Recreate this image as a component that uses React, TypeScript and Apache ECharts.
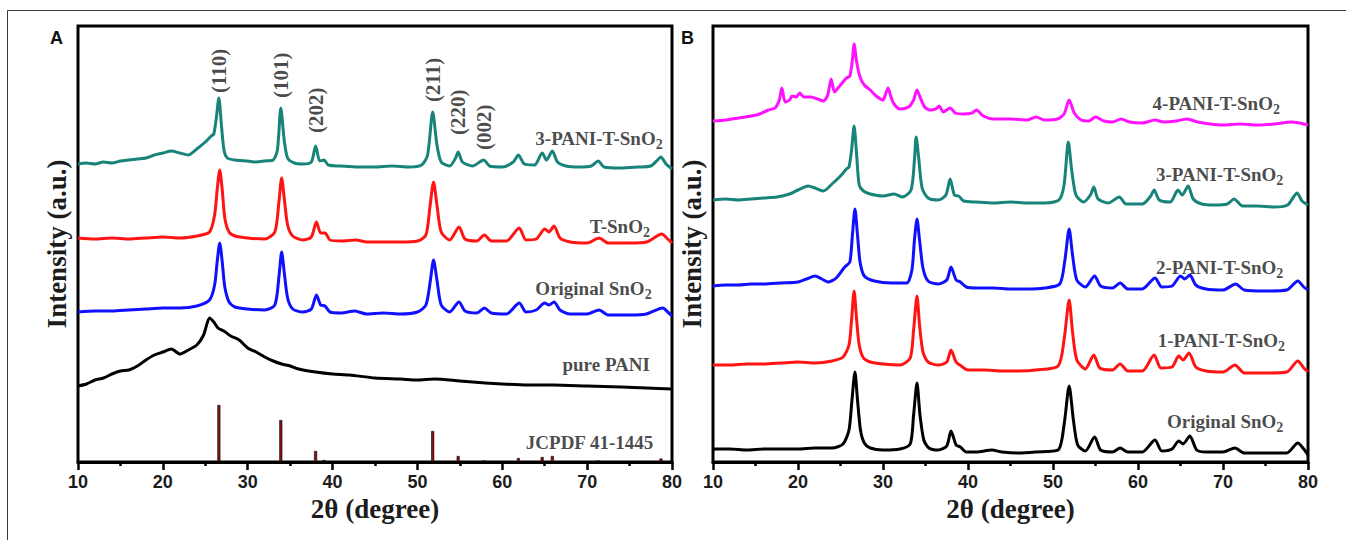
import React, { useEffect, useRef } from "react";
import * as echarts from "echarts";

// ---------- Panel A data: [2θ (deg), intensity (a.u.)] ----------
const aPani3 = [
  [10, 298], [11, 299], [12, 298], [13, 300], [14, 299], [15, 301], [16, 302], [17, 303], [18, 304], [19, 307],
  [20, 309], [21, 311], [22, 309], [23, 307], [24, 313], [25, 320], [25.7, 326], [26.0, 328], [26.3, 344], [26.6, 364],
  [26.9, 337], [27.2, 312], [27.6, 304], [28.5, 302], [30, 301], [31, 300], [32, 301], [33, 302], [33.5, 312], [33.9, 354],
  [34.3, 322], [34.7, 304], [35.5, 299], [36.5, 298], [37.5, 300], [38.0, 316], [38.5, 301], [39.0, 302], [39.5, 297], [41, 296],
  [43, 295], [45, 295], [47, 296], [49, 295], [50.5, 297], [51.2, 307], [51.8, 350], [52.3, 317], [52.8, 300], [53.8, 296],
  [54.5, 304], [54.8, 310], [55.3, 300], [56.5, 296], [57.8, 302], [58.5, 296], [60, 295], [61.3, 300], [61.9, 307], [62.6, 298],
  [63.8, 297], [64.7, 309], [65.2, 302], [65.9, 311], [66.5, 300], [67.5, 296], [69, 295], [70.5, 296], [71.3, 301], [72, 295],
  [74, 294], [76, 295], [77.5, 296], [78.3, 302], [78.7, 305], [79.3, 298], [80, 293]
];
const aTSnO2 = [
  [10, 224], [12, 223], [14, 224], [16, 223], [18, 224], [20, 225], [22, 224], [24, 226], [25.5, 230], [26.1, 247],
  [26.4, 272], [26.7, 292], [27.0, 272], [27.3, 244], [27.8, 230], [28.5, 226], [30, 224], [32, 223], [33.2, 230], [33.7, 262],
  [34.0, 284], [34.3, 264], [34.7, 237], [35.3, 226], [36.5, 222], [37.5, 225], [38.1, 240], [38.6, 229], [39.1, 229], [39.7, 222],
  [41, 221], [42.8, 222], [44, 220], [46, 220], [48, 220], [50, 221], [51.0, 227], [51.5, 257], [51.9, 280], [52.3, 257],
  [52.8, 230], [53.8, 222], [54.9, 235], [55.6, 223], [57, 221], [57.9, 227], [58.7, 221], [60.5, 221], [62.0, 234], [62.8, 222],
  [64.0, 223], [65.0, 233], [65.5, 230], [66.1, 236], [66.8, 224], [68, 220], [70, 219], [71.4, 224], [72.5, 219], [75, 219],
  [77, 220], [78.8, 228], [79.5, 223], [80, 219]
];
const aOriginal = [
  [10, 150], [12, 151], [14, 151], [16, 152], [18, 153], [20, 154], [22, 154], [24, 156], [25.5, 162], [26.1, 177],
  [26.4, 200], [26.7, 219], [27.0, 200], [27.3, 175], [27.8, 160], [28.5, 155], [30, 153], [32, 152], [33.2, 157], [33.7, 187],
  [34.0, 210], [34.3, 190], [34.7, 164], [35.3, 153], [36.5, 150], [37.5, 153], [38.1, 167], [38.6, 157], [39.1, 156], [39.7, 150],
  [41, 149], [42.6, 151], [44, 148], [46, 149], [48, 148], [50, 150], [51.0, 157], [51.5, 180], [51.9, 202], [52.3, 182],
  [52.8, 157], [53.8, 150], [54.9, 160], [55.6, 151], [57, 149], [57.9, 154], [58.7, 149], [60.5, 148], [62.0, 159], [62.8, 150],
  [64.0, 152], [65.0, 159], [65.5, 157], [66.1, 160], [66.8, 152], [68, 148], [70, 148], [71.4, 152], [72.5, 147], [75, 147],
  [77, 148], [78.9, 154], [79.5, 150], [80, 146]
];
const aPurePani = [
  [10, 76], [11, 78], [12, 82], [13, 84], [14, 88], [15, 91], [16, 92], [17, 96], [18, 102], [19, 107],
  [20, 110], [21, 113], [22, 108], [23, 112], [24, 117], [24.8, 127], [25.5, 144], [26.0, 140], [26.5, 134], [27.2, 131],
  [28, 126], [29, 122], [30, 114], [31, 110], [32, 105], [33, 101], [34, 98], [35, 96], [36, 93], [38, 90],
  [40, 88], [42, 87], [45, 84], [48, 83], [50, 82], [52, 83], [55, 81], [58, 79], [60, 78], [63, 77],
  [66, 77], [70, 76], [74, 75], [77, 74], [80, 73]
];
const jcpdfTheta = [26.6, 33.9, 38.0, 39.0, 51.8, 54.8, 57.8, 61.9, 64.7, 65.9, 71.3, 78.7];
const jcpdfIntensity = [57, 42, 11, 2, 31, 6, 1.5, 4, 5, 6, 1.5, 3.5];

const peakNames = ["(110)", "(101)", "(202)", "(211)", "(220)", "(002)"];
const peakTheta = [26.6, 33.9, 38.0, 51.8, 54.8, 57.8];
const peakLabelBase = [369, 364, 329, 360, 327, 312];

const aLabels = ["3-PANI-T-SnO", "T-SnO", "Original SnO", "pure PANI", "JCPDF 41-1445"];
const aLabelSub = ["2", "2", "2", "", ""];
const aLabelTheta = [78.9, 77.4, 77.6, 77.4, 77.8];
const aLabelY = [324, 236, 174, 98, 20];

// ---------- Panel B data ----------
const bPani4 = [
  [10, 341], [11.5, 342], [13, 344], [14.5, 346], [15.5, 348], [16.5, 352], [17.3, 354], [17.8, 362], [18.1, 374], [18.5, 360],
  [19.0, 362], [19.3, 366], [19.8, 365], [20.2, 369], [20.7, 365], [21.5, 365], [22.3, 363], [23.0, 361], [23.5, 367], [23.9, 383],
  [24.3, 370], [24.7, 374], [25.2, 379], [25.7, 384], [26.1, 386], [26.4, 402], [26.6, 418], [26.9, 400], [27.3, 385], [27.8, 377],
  [28.5, 372], [29.2, 366], [30.0, 362], [30.3, 368], [30.6, 374], [30.9, 366], [31.3, 358], [32, 353], [33, 355], [33.6, 362],
  [34.0, 372], [34.4, 364], [34.9, 355], [35.5, 352], [36.2, 353], [36.6, 356], [37.1, 350], [37.9, 354], [38.5, 349], [39.5, 348],
  [40.5, 349], [41.0, 352], [41.8, 346], [43, 343], [45, 343], [47, 342], [48, 345], [49, 342], [50.5, 343], [51.3, 348],
  [51.9, 362], [52.5, 349], [53.3, 342], [54.2, 341], [55.0, 345], [56, 341], [57, 340], [58, 343], [59, 340], [60.5, 339],
  [62, 342], [63, 340], [64.5, 341], [65.8, 343], [67, 340], [68.5, 338], [70, 337], [72, 338], [74, 337], [76, 338],
  [78, 340], [79, 339], [80, 337]
];
const bPani3 = [
  [10, 262], [11.5, 263], [13, 262], [14.5, 263], [16, 264], [17.5, 265], [19, 268], [20, 272], [21.2, 276], [22, 274],
  [23, 271], [24, 278], [25, 286], [25.7, 293], [26.0, 295], [26.3, 312], [26.6, 336], [26.9, 307], [27.2, 277], [27.7, 271],
  [28.5, 268], [30, 266], [31.3, 268], [32.3, 265], [33.3, 272], [33.7, 302], [33.9, 325], [34.2, 304], [34.6, 274], [35.3, 264],
  [36.5, 262], [37.4, 267], [37.9, 283], [38.4, 267], [38.9, 266], [39.5, 261], [41, 260], [43, 259], [45, 260], [47, 259],
  [49, 259], [50.7, 262], [51.3, 277], [51.8, 320], [52.2, 292], [52.7, 267], [53.6, 260], [54.4, 267], [54.8, 275], [55.3, 263],
  [56.5, 259], [57.8, 265], [58.6, 258], [60.5, 258], [61.5, 266], [61.9, 272], [62.5, 262], [63.8, 260], [64.7, 272], [65.2, 267],
  [65.9, 276], [66.5, 263], [67.5, 258], [69, 257], [70.5, 258], [71.3, 263], [72.3, 256], [74, 256], [76, 255], [77.6, 257],
  [78.3, 265], [78.7, 269], [79.3, 261], [80, 257]
];
const bPani2 = [
  [10, 176], [11.5, 177], [13, 177], [14.5, 178], [16, 178], [18, 179], [20, 180], [21, 183], [22, 186], [22.8, 183],
  [23.5, 180], [24.5, 184], [25.5, 195], [26.1, 200], [26.4, 227], [26.7, 253], [27.0, 227], [27.3, 200], [27.8, 186], [29, 181],
  [31, 179], [32.8, 179], [33.4, 192], [33.7, 222], [34.0, 243], [34.3, 222], [34.7, 194], [35.3, 181], [36.5, 178], [37.5, 182],
  [38.0, 195], [38.6, 182], [39.1, 180], [39.8, 175], [41, 174], [43, 174], [45, 173], [47, 173], [49, 174], [50.8, 178],
  [51.4, 202], [51.9, 233], [52.3, 207], [52.8, 182], [53.8, 175], [54.9, 186], [55.6, 176], [57, 174], [57.9, 179], [58.8, 173],
  [60.5, 173], [62.0, 184], [62.8, 175], [64.0, 176], [65.0, 186], [65.5, 183], [66.1, 187], [66.8, 177], [68, 173], [70, 172],
  [71.5, 178], [72.5, 172], [75, 171], [77.5, 172], [78.8, 181], [79.5, 175], [80, 172]
];
const bPani1 = [
  [10, 97], [12, 97], [14, 98], [16, 98], [18, 99], [20, 100], [22, 99], [24, 101], [25.3, 105], [26.0, 117],
  [26.3, 142], [26.6, 171], [26.9, 142], [27.2, 117], [27.7, 104], [28.5, 100], [30, 98], [32, 97], [33.2, 104], [33.6, 132],
  [34.0, 166], [34.3, 137], [34.7, 110], [35.3, 100], [36.5, 97], [37.5, 100], [38.0, 112], [38.6, 100], [39.2, 96], [40, 92],
  [42, 92], [44, 91], [46, 91], [48, 92], [50.6, 96], [51.3, 122], [51.9, 162], [52.3, 130], [52.8, 102], [53.8, 93],
  [54.8, 107], [55.5, 94], [57, 92], [57.9, 98], [58.8, 91], [60.5, 91], [61.9, 107], [62.7, 94], [64.0, 95], [64.8, 106],
  [65.3, 102], [66.0, 109], [66.8, 95], [68, 91], [70, 90], [71.4, 97], [72.5, 89], [75, 89], [77.5, 90], [78.8, 101],
  [79.5, 94], [80, 90]
];
const bOriginal = [
  [10, 13], [12, 13], [14, 12], [16, 13], [18, 13], [20, 13], [22, 14], [24, 14], [25.3, 18], [26.0, 32],
  [26.35, 62], [26.7, 90], [27.0, 62], [27.35, 32], [27.8, 19], [28.5, 14], [30, 12], [32, 13], [33.2, 18], [33.6, 47],
  [34.0, 79], [34.35, 47], [34.8, 22], [35.4, 14], [36.5, 12], [37.5, 16], [38.0, 31], [38.6, 17], [39.1, 15], [39.8, 10],
  [41, 10], [42.8, 12], [44, 10], [46, 9], [48, 10], [50.6, 12], [51.3, 37], [51.9, 76], [52.4, 42], [52.9, 17],
  [53.8, 11], [54.9, 25], [55.6, 12], [57, 10], [57.9, 14], [58.8, 10], [60.5, 10], [62.0, 22], [62.8, 11], [64.0, 13],
  [64.8, 21], [65.3, 18], [66.1, 26], [66.9, 12], [68, 10], [70, 10], [71.4, 14], [72.5, 9], [75, 9], [77.5, 9],
  [78.8, 19], [79.5, 13], [80, 7]
];

const bLabels = ["4-PANI-T-SnO", "3-PANI-T-SnO", "2-PANI-T-SnO", "1-PANI-T-SnO", "Original SnO"];
const bLabelSub = ["2", "2", "2", "2", "2"];
const bLabelTheta = [76.7, 77.1, 77.1, 77.3, 77.1];
const bLabelY = [359, 288, 195, 122, 41];

const xTickInterval = 10;
const xMin = 10;
const xMax = 80;
const yMax = 436;

const SERIF = "'Liberation Serif', 'Times New Roman', serif";
const SANS = "'Liberation Sans', Arial, sans-serif";

const COLORS = {
  teal: "#178379",
  red: "#ff1414",
  blue: "#1010ff",
  black: "#000000",
  magenta: "#ff12ff",
  stick: "#8a1010",
};

function lineSeries(name: string, data: number[][], color: string, idx: number) {
  return {
    type: "line",
    name,
    xAxisIndex: idx,
    yAxisIndex: idx,
    data,
    symbol: "none",
    showSymbol: false,
    smooth: 0.25,
    lineStyle: { color, width: 3, join: "round" },
    silent: true,
    z: 3,
  };
}

const richStyles = {
  main: { fontFamily: SERIF, fontWeight: "bold", fontSize: 19, color: "#1a1a1a" },
  sub: { fontFamily: SERIF, fontWeight: "bold", fontSize: 14, color: "#1a1a1a", padding: [12, 0, 0, 0] },
  peak: { fontFamily: SERIF, fontWeight: "bold", fontSize: 21, color: "#1a1a1a" },
};

function nameLabelSeries(idx: number, names: string[], subs: string[], xs: number[], ys: number[]) {
  return {
    type: "scatter",
    xAxisIndex: idx,
    yAxisIndex: idx,
    symbolSize: 0,
    silent: true,
    z: 5,
    data: names.map((n, i) => ({
      value: [xs[i], ys[i]],
      label: {
        show: true,
        position: "inside",
        align: "right",
        verticalAlign: "middle",
        formatter: () => (subs[i] ? `{main|${n}}{sub|${subs[i]}}` : `{main|${n}}`),
        rich: richStyles,
      },
    })),
  };
}

function xAxis(idx: number) {
  return {
    type: "value",
    gridIndex: idx,
    min: xMin,
    max: xMax,
    interval: xTickInterval,
    axisLine: { show: true, onZero: false, lineStyle: { color: "#000", width: 3 } },
    axisTick: { show: true, inside: false, length: 8, lineStyle: { color: "#000", width: 2.5 } },
    minorTick: { show: true, splitNumber: 2, length: 4, lineStyle: { color: "#000", width: 2.5 } },
    splitLine: { show: false },
    minorSplitLine: { show: false },
    axisLabel: { fontFamily: SANS, fontWeight: "bold", fontSize: 18, color: "#1c1c1c", margin: 11 },
    name: "2θ (degree)",
    nameLocation: "middle",
    nameGap: 30,
    nameTextStyle: { fontFamily: SERIF, fontWeight: "bold", fontSize: 27, color: "#1c1c1c" },
  };
}

function yAxis(idx: number) {
  return {
    type: "value",
    gridIndex: idx,
    min: 0,
    max: yMax,
    axisLine: { show: false },
    axisTick: { show: false },
    axisLabel: { show: false },
    splitLine: { show: false },
    name: "Intensity (a.u.)",
    nameLocation: "middle",
    nameRotate: 90,
    nameGap: 8,
    nameTextStyle: { fontFamily: SERIF, fontWeight: "bold", fontSize: 27, color: "#1c1c1c" },
  };
}

export default function App() {
  const ref = useRef<HTMLDivElement>(null);

  useEffect(() => {
    if (!ref.current) return;
    const chart = echarts.init(ref.current, undefined, { renderer: "svg" });

    const option = {
      animation: false,
      backgroundColor: "#ffffff",
      grid: [
        { left: 78, top: 26, width: 594, height: 436, show: true, borderColor: "#000", borderWidth: 3, backgroundColor: "transparent" },
        { left: 713, top: 26, width: 595, height: 436, show: true, borderColor: "#000", borderWidth: 3, backgroundColor: "transparent" },
      ],
      xAxis: [xAxis(0), xAxis(1)],
      yAxis: [yAxis(0), yAxis(1)],
      graphic: [
        {
          type: "polyline",
          shape: { points: [[7.5, 560], [7.5, 10.5], [1360, 10.5]] },
          style: { stroke: "#3a3a3a", lineWidth: 1, fill: null },
          silent: true,
        },
        { type: "text", left: 50, top: 29, style: { text: "A", fontFamily: SANS, fontWeight: "bold", fontSize: 18, fill: "#111" } },
        { type: "text", left: 681, top: 29, style: { text: "B", fontFamily: SANS, fontWeight: "bold", fontSize: 18, fill: "#111" } },
      ],
      series: [
        lineSeries("3-PANI-T-SnO2", aPani3, COLORS.teal, 0),
        lineSeries("T-SnO2", aTSnO2, COLORS.red, 0),
        lineSeries("Original SnO2", aOriginal, COLORS.blue, 0),
        lineSeries("pure PANI", aPurePani, COLORS.black, 0),
        {
          type: "bar",
          name: "JCPDF 41-1445",
          xAxisIndex: 0,
          yAxisIndex: 0,
          barWidth: 3,
          data: jcpdfTheta.map((t, i) => [t, jcpdfIntensity[i]]),
          itemStyle: { color: COLORS.stick, borderColor: "#000", borderWidth: 0.6 },
          silent: true,
          z: 2,
        },
        {
          type: "scatter",
          xAxisIndex: 0,
          yAxisIndex: 0,
          symbolSize: 0,
          silent: true,
          z: 5,
          data: peakNames.map((n, i) => ({
            value: [peakTheta[i], peakLabelBase[i]],
            label: {
              show: true,
              position: "inside",
              rotate: 90,
              align: "left",
              verticalAlign: "middle",
              formatter: () => `{peak|${n}}`,
              rich: richStyles,
            },
          })),
        },
        nameLabelSeries(0, aLabels, aLabelSub, aLabelTheta, aLabelY),
        lineSeries("4-PANI-T-SnO2", bPani4, COLORS.magenta, 1),
        lineSeries("3-PANI-T-SnO2 ", bPani3, COLORS.teal, 1),
        lineSeries("2-PANI-T-SnO2", bPani2, COLORS.blue, 1),
        lineSeries("1-PANI-T-SnO2", bPani1, COLORS.red, 1),
        lineSeries("Original SnO2 ", bOriginal, COLORS.black, 1),
        nameLabelSeries(1, bLabels, bLabelSub, bLabelTheta, bLabelY),
      ],
    };

    chart.setOption(option as any);
    return () => chart.dispose();
  }, []);

  return (
    <div
      ref={ref}
      style={{ position: "fixed", left: 0, top: 0, width: 1346, height: 540, background: "#fff" }}
    />
  );
}
